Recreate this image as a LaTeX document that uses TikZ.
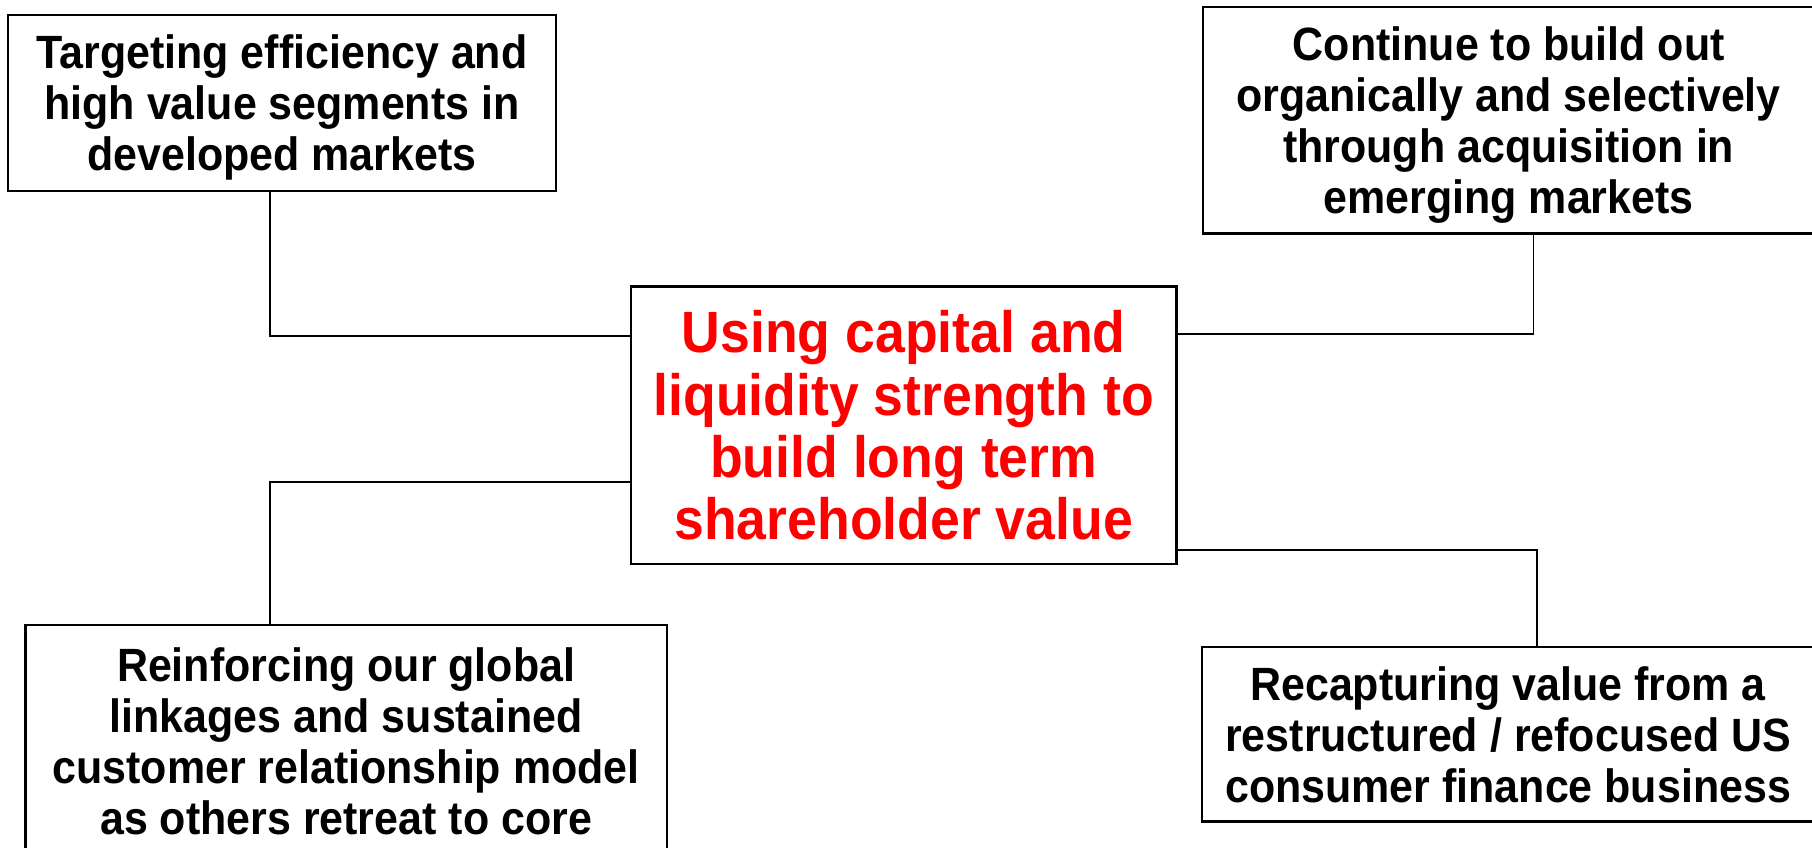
\documentclass[tikz,border=0pt]{standalone}
\usepackage{fontspec}
\setmainfont{Liberation Sans}[FakeStretch=0.92]
\definecolor{strategyred}{RGB}{255,0,0}
\begin{document}
\begin{tikzpicture}[x=0.5pt,y=-0.5pt,
  box/.style={draw=black,line width=1pt,rectangle,inner sep=0pt,align=center,
    text depth=0pt,font=\bfseries\fontsize{20.2}{22}\selectfont},
  hub/.style={box,text=strategyred,font=\bfseries\fontsize{25.2}{27}\selectfont},
  link/.style={draw=black,line width=0.8pt}]
\useasboundingbox (0,0) rectangle (1568,733);
\clip (0,0) rectangle (1568,733);

% central theme
\node[hub,minimum width=236pt,minimum height=120pt] (ctr) at (782,368)
  {Using capital and\\liquidity strength to\\build long term\\shareholder value};

% four supporting priorities
\node[box,minimum width=237pt,minimum height=76pt] (tl) at (244,89)
  {Targeting efficiency and\\high value segments in\\developed markets};
\node[box,minimum width=264.5pt,minimum height=98pt] (tr) at (1305.5,104)
  {Continue to build out\\organically and selectively\\through acquisition in\\emerging markets};
\node[box,minimum width=277.5pt,minimum height=100.5pt] (bl) at (299.5,641.5)
  {Reinforcing our global\\linkages and sustained\\customer relationship model\\as others retreat to core};
\node[box,minimum width=265pt,minimum height=75.5pt] (br) at (1305,635.5)
  {Recapturing value from a\\restructured / refocused US\\consumer finance business};

% elbow points of the connectors
\coordinate (ktl) at (234,291);
\coordinate (ktr) at (1327,289);
\coordinate (kbl) at (234,417);
\coordinate (kbr) at (1330,476);

\draw[link] (tl.south -| ktl) -- (ktl) -- (ktl -| ctr.west);
\draw[link] (ktr -| ctr.east) -- (ktr) -- (ktr |- tr.south);
\draw[link] (kbl -| ctr.west) -- (kbl) -- (kbl |- bl.north);
\draw[link] (kbr -| ctr.east) -- (kbr) -- (kbr |- br.north);
\end{tikzpicture}
\end{document}
